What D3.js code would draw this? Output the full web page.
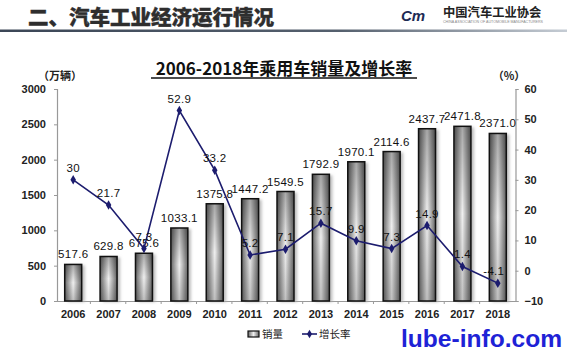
<!DOCTYPE html>
<html><head><meta charset="utf-8">
<script src="https://cdn.jsdelivr.net/npm/d3@7"></script>
<style>
html,body{margin:0;padding:0;background:#fff;}
svg{display:block;}
text{font-family:"Liberation Sans",Arial,sans-serif;}
.cjk{font-family:"Noto Sans CJK SC","Noto Sans",sans-serif;}
</style></head>
<body>
<svg id="chart" width="567" height="352"></svg>
<script>
const years = ["2006","2007","2008","2009","2010","2011","2012","2013","2014","2015","2016","2017","2018"];
const sales = [517.6,629.8,675.6,1033.1,1375.8,1447.2,1549.5,1792.9,1970.1,2114.6,2437.7,2471.8,2371.0];
const salesLabels = ["517.6","629.8","675.6","1033.1","1375.8","1447.2","1549.5","1792.9","1970.1","2114.6","2437.7","2471.8","2371.0"];
const growth = [30,21.7,7.3,52.9,33.2,5.2,7.1,15.7,9.9,7.3,14.9,1.4,-4.1];
const growthLabels = ["30","21.7","7.3","52.9","33.2","5.2","7.1","15.7","9.9","7.3","14.9","1.4","-4.1"];
const leftTicks = [0,500,1000,1500,2000,2500,3000];
const rightTicks = [-10,0,10,20,30,40,50,60];

const svg = d3.select("#chart");
const defs = svg.append("defs");

const hg = defs.append("linearGradient").attr("id","hg");
hg.append("stop").attr("offset","0").attr("stop-color","#3b4656");
hg.append("stop").attr("offset","0.6").attr("stop-color","#55606e");
hg.append("stop").attr("offset","1").attr("stop-color","#c5ccd4");

const bgH = defs.append("linearGradient").attr("id","barH");
bgH.append("stop").attr("offset","0").attr("stop-color","#666");
bgH.append("stop").attr("offset","0.5").attr("stop-color","#f0f0f0");
bgH.append("stop").attr("offset","1").attr("stop-color","#666");
const bgV = defs.append("linearGradient").attr("id","barV").attr("x1",0).attr("x2",0).attr("y1",0).attr("y2",1);
bgV.append("stop").attr("offset","0").attr("stop-color","#000").attr("stop-opacity",0.3);
bgV.append("stop").attr("offset","0.5").attr("stop-color","#000").attr("stop-opacity",0);
bgV.append("stop").attr("offset","1").attr("stop-color","#000").attr("stop-opacity",0.2);
const f = defs.append("filter").attr("id","sh").attr("x","-50%").attr("y","-10%").attr("width","200%").attr("height","120%");
f.append("feDropShadow").attr("dx",3).attr("dy",1).attr("stdDeviation",1.5).attr("flood-color","#aaa").attr("flood-opacity",0.8);

// Header
svg.append("text").attr("class","cjk").attr("x",28).attr("y",25)
  .attr("font-size",20.5).attr("font-weight","900").attr("fill","#2e2e2e")
  .attr("stroke","#2e2e2e").attr("stroke-width",0.4)
  .text("二、汽车工业经济运行情况");
svg.append("rect").attr("x",0).attr("y",29.5).attr("width",567).attr("height",2.5).attr("fill","url(#hg)");
// logo
svg.append("text").attr("x",401).attr("y",21).attr("font-family","DejaVu Serif")
  .attr("font-size",15).attr("font-weight","bold").attr("font-style","italic").attr("fill","#1d2b55").text("Cm");
svg.append("text").attr("class","cjk").attr("x",443).attr("y",17).attr("font-size",12.3)
  .attr("font-weight","bold").attr("fill","#222").text("中国汽车工业协会");
svg.append("text").attr("x",443).attr("y",23).attr("font-size",3.6).attr("fill","#888")
  .attr("textLength",100).text("CHINA ASSOCIATION OF AUTOMOBILE MANUFACTURERS");

// Title
svg.append("text").attr("class","cjk").attr("x",284).attr("y",75).attr("text-anchor","middle")
  .attr("font-size",17).attr("font-weight","bold").attr("fill","#111")
  .text("2006-2018年乘用车销量及增长率");
svg.append("line").attr("x1",151).attr("x2",417).attr("y1",78).attr("y2",78).attr("stroke","#111").attr("stroke-width",1.5);

// Scales
const x = d3.scaleBand().domain(years).range([55.5,515.5]).paddingInner(0.52).paddingOuter(0.26);
const yL = d3.scaleLinear().domain([0,3000]).range([301,89]);
const yR = d3.scaleLinear().domain([-10,60]).range([301,89]);

const axL = svg.append("g").attr("transform","translate(57,0)")
  .call(d3.axisLeft(yL).tickValues(leftTicks).tickFormat(d3.format("d")).tickSize(3).tickPadding(8));
const axR = svg.append("g").attr("transform","translate(515.5,0)")
  .call(d3.axisRight(yR).tickValues(rightTicks).tickFormat(d3.format("d")).tickSize(3).tickPadding(6));
const axB = svg.append("g").attr("transform","translate(0,301)")
  .call(d3.axisBottom(x).tickSize(0).tickPadding(9));
[axL,axR,axB].forEach(a=>{
  a.selectAll("path.domain").attr("stroke","#999").attr("stroke-width",1.2);
  a.selectAll(".tick line").attr("stroke","#999");
  a.selectAll("text").attr("font-size",11).attr("font-weight","bold").attr("fill","#222")
    .attr("font-family","Liberation Sans, Arial, sans-serif");
});
svg.append("g").selectAll("line").data(years.slice(1)).join("line")
  .attr("x1",d=>x(d)-x.step()*x.paddingInner()/2-0.5).attr("x2",d=>x(d)-x.step()*x.paddingInner()/2-0.5)
  .attr("y1",301).attr("y2",304).attr("stroke","#999");

svg.append("text").attr("class","cjk").attr("x",60).attr("y",80).attr("text-anchor","middle")
  .attr("font-size",11).attr("font-weight","bold").attr("fill","#222").text("（万辆）");
svg.append("text").attr("class","cjk").attr("x",509).attr("y",80).attr("text-anchor","middle")
  .attr("font-size",11).attr("font-weight","bold").attr("fill","#222").text("（%）");

// Bars
const bars = svg.append("g");
bars.selectAll("rect.b").data(sales).join("rect").attr("class","b")
  .attr("x",(d,i)=>x(years[i])).attr("width",x.bandwidth())
  .attr("y",d=>yL(d)).attr("height",d=>yL(0)-yL(d))
  .attr("fill","url(#barH)").attr("filter","url(#sh)");
bars.selectAll("rect.o").data(sales).join("rect").attr("class","o")
  .attr("x",(d,i)=>x(years[i])).attr("width",x.bandwidth())
  .attr("y",d=>yL(d)).attr("height",d=>yL(0)-yL(d))
  .attr("fill","url(#barV)").attr("stroke","#111").attr("stroke-width",1.5);

svg.append("g").selectAll("text").data(sales).join("text")
  .attr("x",(d,i)=>x(years[i])+x.bandwidth()/2).attr("y",d=>yL(d)-6)
  .attr("text-anchor","middle").attr("font-size",11.5).attr("fill","#111").attr("letter-spacing",0.3)
  .text((d,i)=>salesLabels[i]);

// Line
const cx = i => x(years[i])+x.bandwidth()/2;
const lineGen = d3.line().x((d,i)=>cx(i)).y(d=>yR(d));
svg.append("path").datum(growth).attr("d",lineGen).attr("fill","none")
  .attr("stroke","#1c1c6e").attr("stroke-width",1.6);
svg.append("g").selectAll("path").data(growth).join("path")
  .attr("transform",(d,i)=>`translate(${cx(i)},${yR(d)})`)
  .attr("d",d3.symbol(d3.symbolDiamond,26)).attr("fill","#1c1c6e");
svg.append("g").selectAll("text").data(growth).join("text")
  .attr("x",(d,i)=>cx(i)-(d<0?4:0)).attr("y",d=>yR(d)-8)
  .attr("text-anchor","middle").attr("font-size",11.5).attr("fill","#111").attr("letter-spacing",0.3)
  .text((d,i)=>growthLabels[i]);

// Legend
const lg = svg.append("g");
lg.append("rect").attr("x",248).attr("y",331).attr("width",11).attr("height",6)
  .attr("fill","url(#barH)").attr("stroke","#111").attr("stroke-width",1.2);
lg.append("text").attr("class","cjk").attr("x",262).attr("y",338).attr("font-size",10.5).attr("fill","#222").text("销量");
lg.append("line").attr("x1",302).attr("x2",317).attr("y1",334).attr("y2",334).attr("stroke","#1c1c6e").attr("stroke-width",1.6);
lg.append("path").attr("transform","translate(309.5,334)").attr("d",d3.symbol(d3.symbolDiamond,22)).attr("fill","#1c1c6e");
lg.append("text").attr("class","cjk").attr("x",319).attr("y",338).attr("font-size",10.5).attr("fill","#222").text("增长率");

// Watermark
svg.append("text").attr("x",401).attr("y",347).attr("font-size",24).attr("font-weight","bold")
  .attr("fill","#1e22d6").attr("textLength",161).attr("lengthAdjust","spacingAndGlyphs").text("lube-info.com");
</script>
</body></html>
